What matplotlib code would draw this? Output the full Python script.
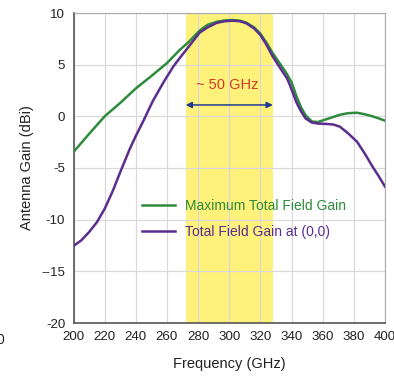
import numpy as np
import matplotlib.pyplot as plt

plt.rcParams['font.family'] = ['Liberation Sans', 'DejaVu Sans']

# frequency points (GHz)
freq_max = [200, 210, 220, 230, 240, 250, 260, 268, 274, 281, 286, 292, 297, 302, 307,
            311, 316, 320, 324, 328, 333, 337, 340, 343, 346, 349, 353, 357, 361, 366,
            371, 376, 382, 387, 392, 396, 400]
gain_max = [-3.45, -1.7, 0.0, 1.3, 2.7, 3.9, 5.15, 6.4, 7.2, 8.3, 8.85, 9.15, 9.28,
            9.32, 9.25, 9.06, 8.6, 8.0, 7.1, 6.1, 5.0, 4.1, 3.3, 2.0, 0.9, 0.1, -0.5,
            -0.55, -0.35, -0.1, 0.15, 0.3, 0.35, 0.2, 0.0, -0.2, -0.42]

freq_00 = [200, 205, 210, 215, 220, 225, 230, 236, 240, 245, 251, 258, 264, 268,
           274, 281, 286, 292, 297, 302, 307, 311, 316, 320, 324, 328, 333, 337, 339,
           343, 346, 349, 353, 357, 363, 367, 371, 376, 382, 387, 392, 396, 400]
gain_00 = [-12.55, -12.0, -11.2, -10.25, -8.95, -7.3, -5.4, -3.2, -1.9, -0.4, 1.5,
           3.35, 4.8, 5.6, 6.75, 8.1, 8.6, 9.05, 9.2, 9.26, 9.2, 9.0, 8.5, 7.87, 6.9,
           5.77, 4.6, 3.7, 3.0, 1.4, 0.5, -0.2, -0.6, -0.7, -0.74, -0.8, -1.0, -1.6,
           -2.45, -3.6, -4.87, -5.8, -6.8]

band = (272, 328)
xticks = list(range(200, 401, 20))
yticks = list(range(-20, 11, 5))
ytick_labels = ['-20', '--15', '-10', '-5', '0', '5', '10']

fig = plt.figure(figsize=(3.94, 3.77), dpi=100)
ax = fig.add_axes([73.5 / 394, 1 - 323 / 377, 311.5 / 394, 310 / 377])

ax.axvspan(band[0], band[1], color='#fff27a', zorder=0, lw=0)
ax.plot(freq_max, gain_max, color='#2e8b3c', lw=1.8, label='Maximum Total Field Gain',
        zorder=3, solid_joinstyle='round')
ax.plot(freq_00, gain_00, color='#5a2d8f', lw=1.8, label='Total Field Gain at (0,0)',
        zorder=3, solid_joinstyle='round')

ax.annotate('', xy=(band[0], 1.1), xytext=(band[1], 1.1),
            arrowprops=dict(arrowstyle='<|-|>', color='#1f3b8f', lw=1.1,
                            mutation_scale=9, shrinkA=0, shrinkB=0), zorder=4)
ax.text(298.5, 3.0, '~ 50 GHz', color='#d23a2a', fontsize=10.5, ha='center', va='center', zorder=4)

ax.set_xlim(200, 400)
ax.set_ylim(-20, 10)
ax.set_xticks(xticks)
ax.set_yticks(yticks)
ax.set_yticklabels(ytick_labels)
ax.grid(True, color='#d9d9d9', lw=0.9, zorder=1)
ax.set_axisbelow(True)
ax.tick_params(length=0, labelsize=9.6, colors='#222222', pad=6)
for side in ['top', 'right']:
    ax.spines[side].set_color('#aaaaaa')
for side in ['left', 'bottom']:
    ax.spines[side].set_color('#555555')
    ax.spines[side].set_linewidth(1.2)

ax.set_xlabel('Frequency (GHz)', fontsize=10.5, color='#222222', labelpad=10)
ax.set_ylabel('Antenna Gain (dBi)', fontsize=10.5, color='#222222', labelpad=5)

ax.legend(loc='upper left', bbox_to_anchor=(0.18, 0.44), frameon=False, fontsize=10,
          labelcolor='linecolor', handlelength=2.4, handletextpad=0.7, labelspacing=0.85)

fig.text(0.0, 1 - 340 / 377, '0', fontsize=10, ha='center', va='center', color='#222222')

fig.savefig('out.png', dpi=100)
